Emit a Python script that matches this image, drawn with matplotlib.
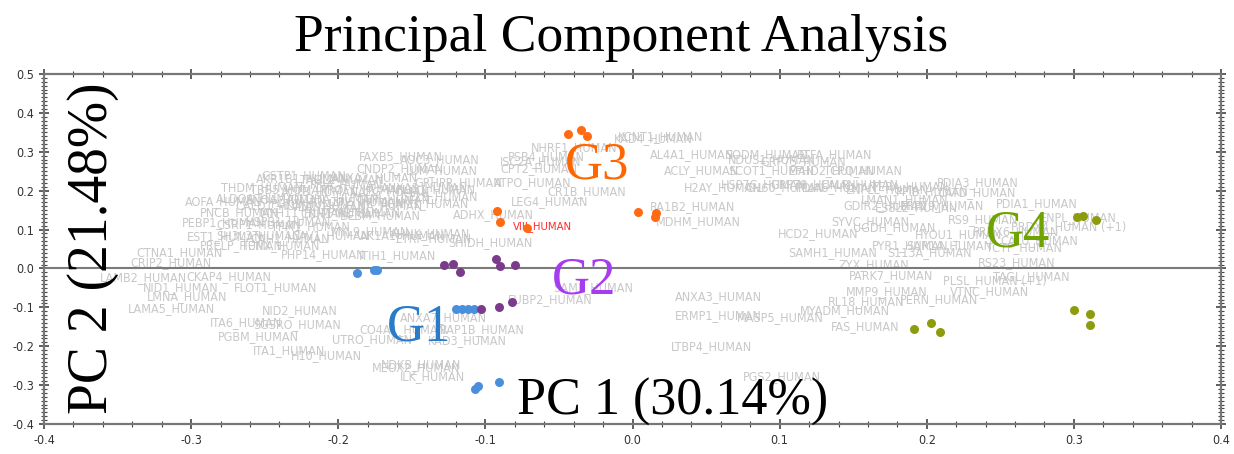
import numpy as np
import matplotlib.pyplot as plt
from matplotlib import font_manager as fm
from matplotlib.ticker import MultipleLocator

# %%
# Scores of the four sample groups (PC1, PC2)
g1_x = [-0.187, -0.176, -0.174, -0.120, -0.116, -0.112, -0.108, -0.107, -0.105, -0.091]
g1_y = [-0.012, -0.004, -0.004, -0.104, -0.104, -0.104, -0.104, -0.310, -0.302, -0.292]
g2_x = [-0.128, -0.122, -0.117, -0.093, -0.090, -0.080, -0.103, -0.091, -0.082]
g2_y = [0.009, 0.012, -0.009, 0.024, 0.006, 0.009, -0.104, -0.099, -0.086]
g3_x = [-0.044, -0.035, -0.031, -0.092, -0.090, -0.072, 0.004, 0.016, 0.015]
g3_y = [0.346, 0.356, 0.341, 0.148, 0.120, 0.104, 0.145, 0.143, 0.132]
g4_x = [0.191, 0.203, 0.209, 0.300, 0.311, 0.311, 0.302, 0.306, 0.315]
g4_y = [-0.155, -0.140, -0.163, -0.107, -0.117, -0.145, 0.132, 0.135, 0.125]

# %%
# Protein loadings (labels only)
prot_names = [
    "FAXB5_HUMAN", "CNDP2_HUMAN", "AKR1B1_HUMAN", "THDM_HUMAN", "AOFA_HUMAN",
    "PNCB_HUMAN", "PEBP1_HUMAN", "EST1_HUMAN", "CTNA1_HUMAN", "CRIP2_HUMAN",
    "LAMB2_HUMAN", "NID1_HUMAN", "CKAP4_HUMAN", "FLOT1_HUMAN", "LMNA_HUMAN",
    "LAMA5_HUMAN", "NID2_HUMAN", "ITA6_HUMAN", "SGSRO_HUMAN", "CO4A1_HUMAN",
    "PGBM_HUMAN", "UTRO_HUMAN", "ITA1_HUMAN", "H10_HUMAN", "MEOX2_HUMAN",
    "NDKB_HUMAN", "ILK_HUMAN", "PHP14_HUMAN", "ITIH1_HUMAN", "SAMP_HUMAN",
    "FUBP2_HUMAN", "ANXA3_HUMAN", "ERMP1_HUMAN", "MASP5_HUMAN", "LTBP4_HUMAN",
    "PGS2_HUMAN", "ANXA7_HUMAN", "RAP1B_HUMAN", "KAD3_HUMAN", "KAD4_HUMAN",
    "KCNT1_HUMAN", "NHRF1_HUMAN", "AL4A1_HUMAN", "SODM_HUMAN", "PSB4_HUMAN",
    "ISC2A_HUMAN", "CPT2_HUMAN", "ACLY_HUMAN", "GRHPR_HUMAN", "ATPO_HUMAN",
    "H2AY_HUMAN", "CR1B_HUMAN", "LEG4_HUMAN", "RA1B2_HUMAN", "ADHX_HUMAN",
    "MDHM_HUMAN", "SHIDH_HUMAN", "HCD2_HUMAN", "SAMH1_HUMAN", "PDIA3_HUMAN",
    "CATD_HUMAN", "GDIR2_HUMAN", "ES8L2_HUMAN", "SYVC_HUMAN", "RS9_HUMAN",
    "PDIA1_HUMAN", "UGDH_HUMAN", "HYOU1_HUMAN", "PYR1_HUMAN", "SAR1A_HUMAN",
    "S113A_HUMAN", "ZYX_HUMAN", "PARK7_HUMAN", "RS23_HUMAN", "PLSL_HUMAN (+1)",
    "TAGL_HUMAN", "VTNC_HUMAN", "MMP9_HUMAN", "RL18_HUMAN", "PERN_HUMAN",
    "MYADM_HUMAN", "FAS_HUMAN", "PRDX4_HUMAN (+1)", "ENPL_HUMAN", "PRDX6_HUMAN",
    "CALU_HUMAN", "TCTP_HUMAN",
    # dense left cloud
    "GSTP1_HUMAN", "TAGL2_HUMAN", "ANXA2_HUMAN", "PPIA_HUMAN", "TBB5_HUMAN",
    "ACTB_HUMAN", "PROF1_HUMAN", "CAPG_HUMAN", "ANXA1_HUMAN", "ALDOA_HUMAN",
    "ENOA_HUMAN", "PGK1_HUMAN", "LDHA_HUMAN", "TPIS_HUMAN", "G6PI_HUMAN",
    "PGAM1_HUMAN", "GELS_HUMAN", "CALD1_HUMAN", "VINC_HUMAN", "FLNA_HUMAN",
    "MYH11_HUMAN", "CNN1_HUMAN", "TPM2_HUMAN", "DESM_HUMAN", "CSRP1_HUMAN",
    "HSPB1_HUMAN", "TPM1_HUMAN", "SH3L3_HUMAN", "CAH1_HUMAN", "CAV1_HUMAN",
    "MYL9_HUMAN", "AK1A1_HUMAN", "PTRF_HUMAN", "PRELP_HUMAN", "TENX_HUMAN",
    "AOC3_HUMAN", "LUM_HUMAN", "PLIN1_HUMAN", "AHNK_HUMAN",
    # dense right cloud
    "NDUS1_HUMAN", "GRP75_HUMAN", "ETFA_HUMAN", "SCOT1_HUMAN", "EFHD2_HUMAN",
    "TCPQ_HUMAN", "HSP7C_HUMAN", "CH60_HUMAN", "GRP78_HUMAN", "PDIA6_HUMAN",
    "CALR_HUMAN", "ENPLL_HUMAN", "TERA_HUMAN", "PPIB_HUMAN", "LMAN1_HUMAN",
    "ERP29_HUMAN",
]
prot_x = [
    -0.186, -0.188, -0.256, -0.280, -0.304,
    -0.294, -0.306, -0.303, -0.337, -0.341,
    -0.362, -0.333, -0.303, -0.271, -0.330,
    -0.343, -0.252, -0.287, -0.258, -0.186,
    -0.282, -0.204, -0.258, -0.232, -0.177,
    -0.171, -0.158, -0.239, -0.186, -0.054,
    -0.085, 0.029, 0.029, 0.071, 0.026,
    0.075, -0.158, -0.131, -0.139, -0.013,
    -0.010, -0.069, 0.012, 0.063, -0.085,
    -0.090, -0.090, 0.021, -0.148, -0.094,
    0.035, -0.058, -0.083, 0.012, -0.122,
    0.016, -0.125, 0.099, 0.106, 0.207,
    0.207, 0.143, 0.165, 0.135, 0.214,
    0.247, 0.150, 0.192, 0.163, 0.186,
    0.173, 0.140, 0.147, 0.235, 0.211,
    0.245, 0.216, 0.145, 0.133, 0.182,
    0.114, 0.135, 0.257, 0.277, 0.231,
    0.250, 0.240,
    -0.252, -0.226, -0.205, -0.219, -0.260,
    -0.239, -0.212, -0.192, -0.171, -0.283,
    -0.263, -0.246, -0.226, -0.205, -0.188,
    -0.171, -0.158, -0.270, -0.232, -0.195,
    -0.253, -0.226, -0.212, -0.199, -0.283,
    -0.263, -0.246, -0.283, -0.260, -0.232,
    -0.205, -0.185, -0.161, -0.294, -0.266,
    -0.158, -0.154, -0.161, -0.165,
    0.065, 0.087, 0.112, 0.065, 0.106,
    0.130, 0.060, 0.077, 0.094, 0.111,
    0.128, 0.145, 0.162, 0.179, 0.155,
    0.182,
]
prot_y = [
    0.287, 0.258, 0.230, 0.207, 0.171,
    0.143, 0.117, 0.081, 0.040, 0.014,
    -0.024, -0.048, -0.022, -0.050, -0.073,
    -0.104, -0.109, -0.138, -0.143, -0.158,
    -0.176, -0.184, -0.212, -0.225, -0.256,
    -0.246, -0.279, 0.035, 0.032, -0.048,
    -0.081, -0.073, -0.122, -0.127, -0.202,
    -0.279, -0.127, -0.158, -0.186, 0.335,
    0.340, 0.312, 0.292, 0.292, 0.287,
    0.274, 0.258, 0.253, 0.220, 0.220,
    0.207, 0.199, 0.171, 0.158, 0.138,
    0.120, 0.066, 0.091, 0.042, 0.222,
    0.194, 0.163, 0.156, 0.120, 0.125,
    0.168, 0.104, 0.086, 0.060, 0.058,
    0.040, 0.009, -0.017, 0.014, -0.030,
    -0.022, -0.060, -0.060, -0.086, -0.081,
    -0.107, -0.150, 0.109, 0.130, 0.094,
    0.073, 0.053,
    0.238, 0.228, 0.233, 0.217, 0.203,
    0.197, 0.203, 0.197, 0.207, 0.181,
    0.176, 0.168, 0.181, 0.171, 0.176,
    0.168, 0.184, 0.161, 0.158, 0.161,
    0.145, 0.140, 0.145, 0.135, 0.112,
    0.120, 0.109, 0.084, 0.078, 0.084,
    0.094, 0.084, 0.078, 0.060, 0.058,
    0.279, 0.253, 0.203, 0.091,
    0.279, 0.274, 0.292, 0.253, 0.253,
    0.253, 0.215, 0.207, 0.217, 0.207,
    0.215, 0.204, 0.210, 0.199, 0.176,
    0.163,
]
highlight = "VIII_HUMAN"
highlight_xy = (-0.081, 0.107)

# %%
# pick a narrow sans for the small labels, whatever is installed
def narrow_font():
    try:
        fm.findfont(fm.FontProperties(family="Liberation Sans Narrow"),
                    fallback_to_default=False)
        return dict(family="Liberation Sans Narrow"), 1.0
    except ValueError:
        pass
    path = fm.findfont(fm.FontProperties(family="DejaVu Sans", stretch="condensed"))
    if "Condensed" in path:
        return dict(family="DejaVu Sans", stretch="condensed"), 0.95
    return dict(family="Liberation Sans"), 0.86

serif = "Liberation Serif"
small, k = narrow_font()

fig = plt.figure(figsize=(12.34, 4.54), dpi=100)
ax = fig.add_axes([0.0357, 0.066, 0.9538, 0.771])

for name, x, y in zip(prot_names, prot_x, prot_y):
    ax.text(x, y, name, color="#c8c8c8", fontsize=9.5 * k, ha="left",
            va="center", zorder=1, **small)
ax.text(*highlight_xy, highlight, color="#ff2a2a", fontsize=8.5 * k,
        ha="left", va="center", zorder=3, **small)

ax.axhline(0, color="#7a7a7a", lw=1.5, zorder=2)

dot = dict(s=42, zorder=4, linewidths=0)
ax.scatter(g1_x, g1_y, color="#4a8fdc", **dot)
ax.scatter(g2_x, g2_y, color="#7b3b8c", **dot)
ax.scatter(g3_x, g3_y, color="#ff6a12", **dot)
ax.scatter(g4_x, g4_y, color="#8c9c0c", **dot)

big = dict(family=serif, ha="center", va="center", zorder=5)
ax.text(-0.145, -0.153, "G1", color="#2a7cc8", fontsize=38, **big)
ax.text(-0.033, -0.030, "G2", color="#a53cf0", fontsize=38, **big)
ax.text(-0.024, 0.266, "G3", color="#ff6600", fontsize=38, **big)
ax.text(0.262, 0.091, "G4", color="#6ea300", fontsize=38, **big)

ax.text(0.027, -0.343, "PC 1 (30.14%)", color="black", fontsize=37.5, **big)
ax.text(-0.367, 0.053, "PC 2 (21.48%)", color="black", fontsize=40,
        rotation=90, **big)

fig.text(0.503, 0.917, "Principal Component Analysis", family=serif,
         fontsize=38.5, ha="center", va="center")

ax.set_xlim(-0.4, 0.4)
ax.set_ylim(-0.4, 0.5)
ax.xaxis.set_major_locator(MultipleLocator(0.1))
ax.xaxis.set_minor_locator(MultipleLocator(0.02))
ax.yaxis.set_major_locator(MultipleLocator(0.1))
ax.yaxis.set_minor_locator(MultipleLocator(0.01))
ax.xaxis.set_major_formatter(lambda v, p: f"{v:.1f}")
ax.yaxis.set_major_formatter(lambda v, p: f"{v:.1f}")
ax.tick_params(which="both", direction="inout", top=True, right=True,
               colors="#444444", labelcolor="#333333")
ax.tick_params(which="major", length=7, width=1.2, labelsize=9.5 * k)
ax.tick_params(which="minor", length=4, width=0.8)
ax.tick_params(labeltop=False, labelright=False)
for lab in ax.get_xticklabels() + ax.get_yticklabels():
    lab.set_fontproperties(fm.FontProperties(size=9.5 * k, **small))
for sp in ax.spines.values():
    sp.set_color("#777777")
    sp.set_linewidth(1.6)

fig.savefig("out.png", dpi=100)
